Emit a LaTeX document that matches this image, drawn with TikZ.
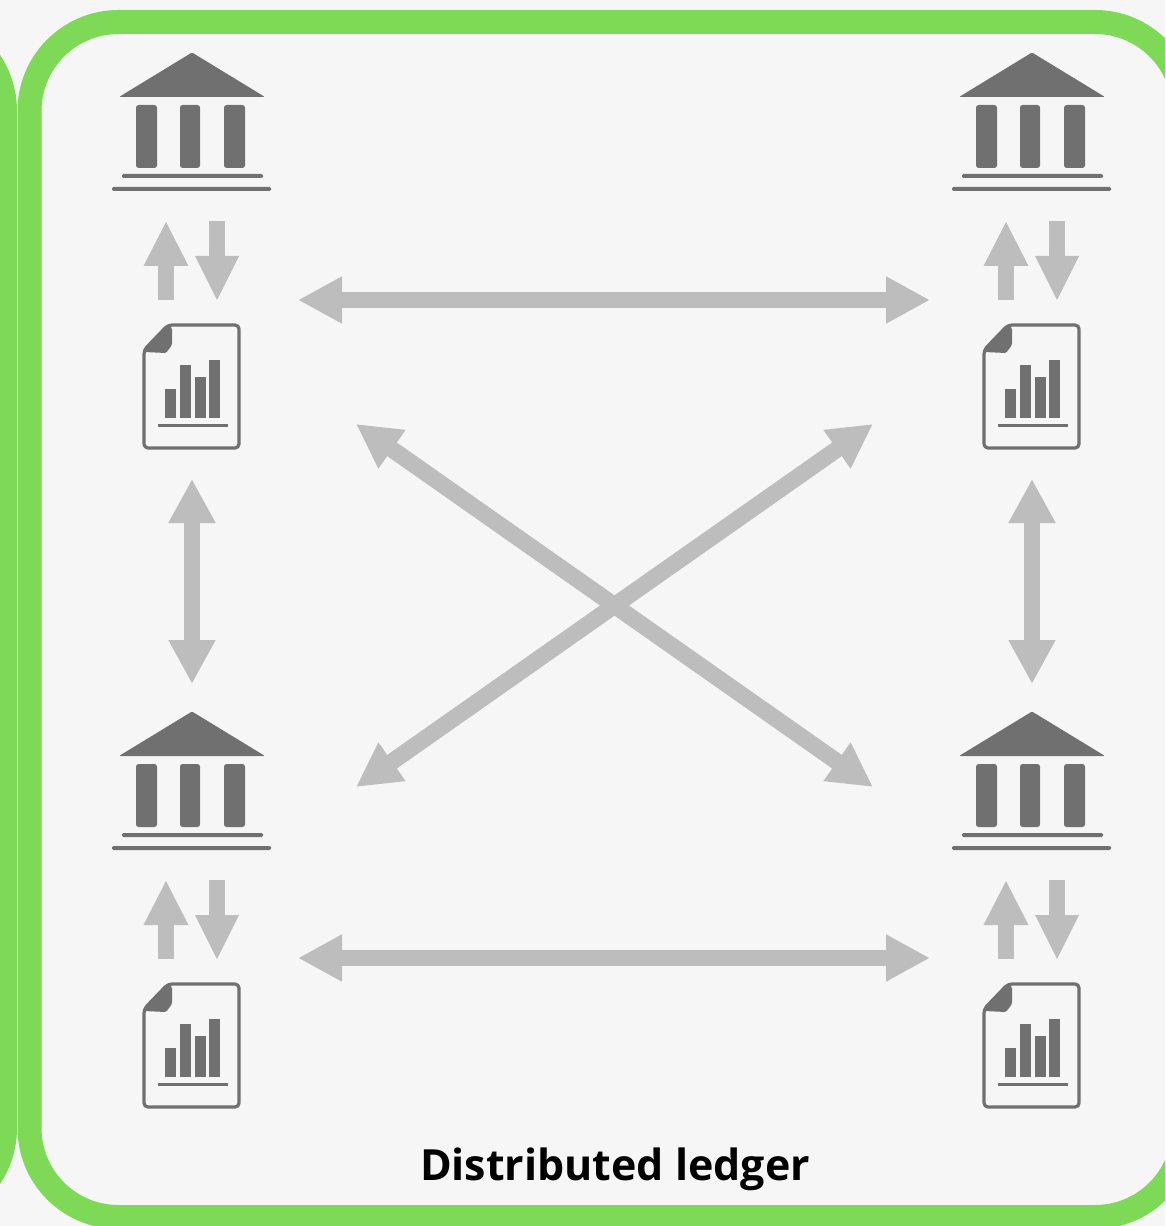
\documentclass[tikz,border=0pt]{standalone}
\usepackage{fontspec}
\setmainfont{Open Sans}
\usetikzlibrary{arrows.meta}
\definecolor{rim}{HTML}{7ED957}
\definecolor{paper}{HTML}{F6F6F6}
\definecolor{icon}{HTML}{707070}
\definecolor{flow}{HTML}{BDBDBD}
\tikzset{
  rimline/.style={draw=rim,line width=18pt,fill=paper,rounded corners=66.75pt},
  iconfill/.style={fill=icon,draw=none},
  smallflow/.style={fill=flow,draw=none},
  twoway/.style={draw=flow,line width=12.5pt,{Triangle[length=33pt,width=33pt]}-{Triangle[length=33pt,width=33pt]}},
  bank/.pic={
    \fill[iconfill,rounded corners=1pt] (0,-44.5) -- (73,0) -- (-73,0) -- cycle;
    \fill[iconfill,rounded corners=2pt] (-56,8) rectangle (-35,71);
    \fill[iconfill,rounded corners=2pt] (-12,8) rectangle (8,71);
    \fill[iconfill,rounded corners=2pt] (32,8) rectangle (53,71);
    \fill[iconfill,rounded corners=1pt] (-70,77) rectangle (71,81);
    \fill[iconfill,rounded corners=1pt] (-80,90) rectangle (79,94);
  },
  ledgerdoc/.pic={
    \draw[icon,line width=2.4pt,line join=round,fill=paper,rounded corners=3pt] (0,25) -- (24,0) -- (95,0) -- (95,123) -- (0,123) -- cycle;
    \fill[iconfill,rounded corners=1pt] (0,27) -- (24,0) -- (28,3) -- (28,20) -- (22,28) -- cycle;
    \fill[iconfill] (21,64) rectangle (32,93);
    \fill[iconfill] (36,40) rectangle (47,93);
    \fill[iconfill] (51,52) rectangle (62,93);
    \fill[iconfill] (65,35) rectangle (76,93);
    \fill[iconfill] (14,98.5) rectangle (84,101.5);
  },
  updown/.pic={
    \fill[smallflow] (-26,0) -- (-3.5,44) -- (-48.5,44) -- cycle;
    \fill[smallflow] (-34,44) rectangle (-18,78);
    \fill[smallflow] (17,-1) rectangle (33,36);
    \fill[smallflow] (3,34) -- (47,34) -- (25,78) -- cycle;
  },
  corner/.pic={
    \pic at (0,0) {bank};
    \pic at (0,125) {updown};
    \pic at (-48,228) {ledgerdoc};
  },
}
\begin{document}
\begin{tikzpicture}[x=0.75pt,y=-0.75pt]
\useasboundingbox (0,0) rectangle (1165,1226);
\fill[paper] (0,0) rectangle (1165,1226);
\clip (0,0) rectangle (1165,1226);
\path[rimline] (-300,22) rectangle (5,1217);
\path[rimline] (29.5,22) rectangle (1184,1217);

\pic at (192,97) {corner};
\pic at (1032,97) {corner};
\pic at (192,756) {corner};
\pic at (1032,756) {corner};

\coordinate (topL) at (298,300);
\coordinate (topR) at (930,300);
\coordinate (botL) at (298,958);
\coordinate (botR) at (930,958);
\coordinate (leftT) at (192,479);
\coordinate (leftB) at (192,684);
\coordinate (rightT) at (1032,479);
\coordinate (rightB) at (1032,684);
\coordinate (crossTL) at (356,424);
\coordinate (crossBR) at (873,787);
\coordinate (crossTR) at (873,424);
\coordinate (crossBL) at (356,787);

\draw[twoway] (topL) -- (topR);
\draw[twoway] (botL) -- (botR);
\draw[twoway] (leftT) -- (leftB);
\draw[twoway] (rightT) -- (rightB);
\draw[twoway] (crossTL) -- (crossBR);
\draw[twoway] (crossTR) -- (crossBL);

\node[font=\fontsize{32.2pt}{38pt}\selectfont\bfseries,text=black,inner sep=0pt,anchor=base] (caption) at (615,1180) {Distributed ledger};
\end{tikzpicture}
\end{document}
